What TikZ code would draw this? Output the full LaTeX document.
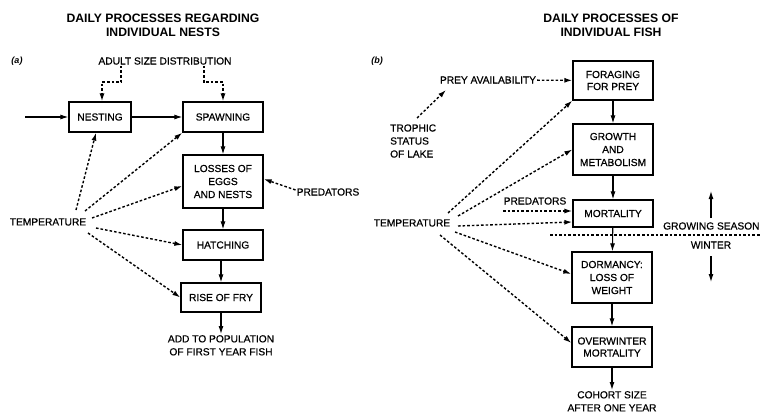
\documentclass[tikz,border=0pt]{standalone}
\usepackage{fontspec}
\setmainfont{Liberation Sans}
\newfontfamily\medfont{Liberation Sans}[FakeBold=0.6]
\usetikzlibrary{arrows.meta}
\begin{document}
\begin{tikzpicture}[x=1pt,y=-1pt,
  font=\medfont\fontsize{10.2}{13}\selectfont,
  box/.style={draw, line width=1.3pt, minimum width=80pt, align=center, inner sep=1pt},
  lbl/.style={align=center, inner sep=1pt},
  arr/.style={-{Latex[length=8pt,width=5pt]}, line width=1.1pt},
  dar/.style={-{Latex[length=8pt,width=5pt]}, line width=1.4pt, dash pattern=on 2.6pt off 2pt},
  dln/.style={line width=1.4pt, dash pattern=on 2.6pt off 2pt},
  ttl/.style={font=\fontsize{12.2}{14}\selectfont\bfseries, align=center},
  tag/.style={font=\fontsize{9}{10}\selectfont\bfseries\itshape}]
\useasboundingbox (0,0) rectangle (761,415);

% ---------- panel (a) ----------
\node[ttl] (ttlA) at (163,25) {DAILY PROCESSES REGARDING\\INDIVIDUAL NESTS};
\node[tag] (tagA) at (17,61) {(a)};
\node[lbl] (adult) at (165,61) {ADULT SIZE DISTRIBUTION};

\node[box, minimum width=62pt, minimum height=30pt] (nest) at (100,117) {NESTING};
\node[box, minimum height=30pt] (spawn) at (223,117) {SPAWNING};
\node[box, minimum height=53pt] (loss) at (223,181.5) {LOSSES OF\\EGGS\\AND NESTS};
\node[box, minimum height=30pt] (hatch) at (223,245) {HATCHING};
\node[box, minimum height=29pt] (rise) at (221,297.5) {RISE OF FRY};
\node[lbl, anchor=north] (addpop) at (221,334) {ADD TO POPULATION\\OF FIRST YEAR FISH};
\node[lbl] (tempA) at (48,222) {TEMPERATURE};
\node[lbl] (predA) at (328,192) {PREDATORS};
\coordinate (inA) at (25,117);

\draw[arr] (inA) -- (nest);
\draw[arr] (nest) -- (spawn);
\draw[arr] (spawn) -- (loss);
\draw[arr] (loss) -- (hatch);
\draw[arr] (hatch.south -| rise.north) -- (rise);
\draw[arr] (rise) -- (addpop);

\draw[dar] (adult.south -| 121,0) |- (102,82) -- (nest.north -| 102,0);
\draw[dar] (adult.south -| 204,0) |- (223,82) -- (spawn.north);

\draw[dar] (76,210) -- (nest.south -| 96,0);
\draw[dar] (85,211) -- (spawn.south west);
\draw[dar] (92,218) -- (loss.west |- 0,186);
\draw[dar] (96,228) -- (hatch.west);
\draw[dar] (88,233) -- (rise.west);
\draw[dar] (predA.west |- 0,190) -- (loss.east |- 0,179);

% ---------- panel (b) ----------
\node[ttl] (ttlB) at (611,25) {DAILY PROCESSES OF\\INDIVIDUAL FISH};
\node[tag] (tagB) at (377,61) {(b)};

\node[box, minimum height=39pt, font=\medfont\fontsize{10.2}{12}\selectfont] (forage) at (613,80.5) {FORAGING\\FOR PREY};
\node[box, minimum height=51pt] (growth) at (613,149.5) {GROWTH\\AND\\METABOLISM};
\node[box, minimum height=27pt] (mort) at (613,213.5) {MORTALITY};
\node[box, minimum height=51pt] (dorm) at (612,277.5) {DORMANCY:\\LOSS OF\\WEIGHT};
\node[box, minimum height=40pt, font=\medfont\fontsize{10.2}{12}\selectfont] (over) at (612,347) {OVERWINTER\\MORTALITY};
\node[lbl, anchor=north] (cohort) at (612,390) {COHORT SIZE\\AFTER ONE YEAR};

\node[lbl] (prey) at (488,80) {PREY AVAILABILITY};
\node[lbl, anchor=west, align=left] (troph) at (389,141) {TROPHIC\\STATUS\\OF LAKE};
\node[lbl] (tempB) at (412,223) {TEMPERATURE};
\node[lbl] (predB) at (535,201) {PREDATORS};
\node[lbl, anchor=west] (grow) at (662,226) {GROWING SEASON};
\node[lbl] (wint) at (711,245) {WINTER};
\coordinate (lineL) at (550,235);
\coordinate (lineR) at (761,235);

\draw[arr] (forage) -- (growth);
\draw[arr] (growth) -- (mort);
\draw[arr] (mort) -- (dorm);
\draw[arr] (dorm) -- (over);
\draw[arr] (over) -- (cohort);

\draw[dar] (prey) -- (forage);
\draw[dar] (417,118) -- (446,90);
\draw[dar] (503,211) -- (mort.west |- 0,211);
\draw[dar] (448,213) -- (forage.south west);
\draw[dar] (458,216) -- (growth.west);
\draw[dar] (458,226) -- (mort.west |- 0,222);
\draw[dar] (455,232) -- (dorm.west |- 0,274);
\draw[dar] (440,235) -- (over.west |- 0,343);

\draw[dln] (lineL) -- (lineR);
\draw[arr] (wint.north |- 0,218) -- (wint.north |- 0,191);
\draw[arr] (wint.south |- 0,256) -- (wint.south |- 0,282);
\end{tikzpicture}
\end{document}
